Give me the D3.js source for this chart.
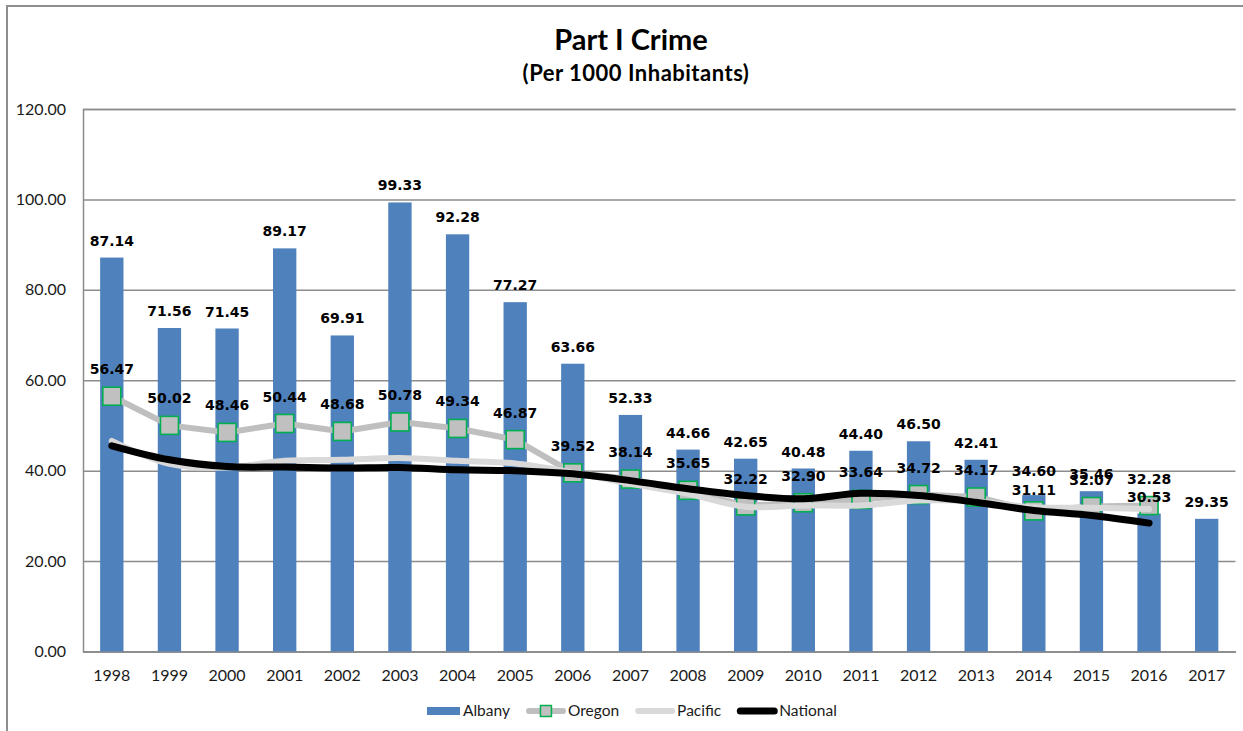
<!DOCTYPE html>
<html>
<head>
<meta charset="utf-8">
<script src="https://cdn.jsdelivr.net/npm/d3@7"></script>
<style>
  body { margin: 0; background: #fff; }
  svg { display: block; }
</style>
</head>
<body>
<svg id="chart" width="1243" height="731"></svg>
<script>
// ---- data (crimes per 1000 inhabitants) ----
const years = ["1998","1999","2000","2001","2002","2003","2004","2005","2006","2007",
               "2008","2009","2010","2011","2012","2013","2014","2015","2016","2017"];
const albany = [87.14, 71.56, 71.45, 89.17, 69.91, 99.33, 92.28, 77.27, 63.66, 52.33,
                44.66, 42.65, 40.48, 44.40, 46.50, 42.41, 34.60, 35.46, 30.53, 29.35];
const oregon = [56.47, 50.02, 48.46, 50.44, 48.68, 50.78, 49.34, 46.87, 39.52, 38.14,
                35.65, 32.22, 32.90, 33.64, 34.72, 34.17, 31.11, 32.07, 32.28, null];
const pacific = [46.6, 41.5, 40.7, 42.2, 42.4, 42.8, 42.2, 41.6, 39.6, 37.1,
                 34.9, 32.0, 32.3, 32.3, 33.4, 33.2, 31.9, 31.8, 31.5, null];
const national = [45.5, 42.4, 40.9, 40.8, 40.6, 40.7, 40.2, 40.0, 39.3, 37.8,
                  36.0, 34.5, 33.8, 35.0, 34.5, 33.0, 31.2, 30.1, 28.4, null];
const yTicks = [0, 20, 40, 60, 80, 100, 120];
const seriesNames = ["Albany", "Oregon", "Pacific", "National"];
const titleText = "Part I Crime";
const subtitleText = "(Per 1000 Inhabitants)";

// ---- layout & style ----
const W = 1243, H = 731;
const plot = { left: 83, right: 1235.5, top: 109, bottom: 651.5 };
const colors = { albany: "#4F81BD", oregon: "#BFBFBF", oregonEdge: "#00B050",
                 pacific: "#D9D9D9", national: "#000000", grid: "#8C8C8C", text: "#1a1a1a" };
const uiFont = "Lato, 'Open Sans', sans-serif";
const labelFont = "'DejaVu Sans', Verdana, sans-serif";

const svg = d3.select("#chart");

// outer chart frame
svg.append("rect")
  .attr("x", 7).attr("y", 6).attr("width", W + 20).attr("height", H + 20)
  .attr("fill", "#fff").attr("stroke", "#8E8E8E").attr("stroke-width", 2);

// title
svg.append("text").attr("x", 631).attr("y", 50)
  .attr("text-anchor", "middle").attr("font-family", uiFont).attr("font-weight", 700)
  .attr("font-size", 29).attr("fill", "#000").text(titleText);
svg.append("text").attr("x", 636).attr("y", 81)
  .attr("text-anchor", "middle").attr("font-family", uiFont).attr("font-weight", 700)
  .attr("font-size", 22).attr("letter-spacing", 0.5).attr("fill", "#000").text(subtitleText);

// scales
const x = d3.scaleBand().domain(years).range([plot.left, plot.right]).padding(0);
const y = d3.scaleLinear().domain([0, 120]).range([plot.bottom, plot.top]);
const cx = d => x(d) + x.bandwidth() / 2;
const barW = x.bandwidth() * 0.405;

// y axis with gridlines
const yAxis = svg.append("g")
  .attr("transform", `translate(${plot.left},0)`)
  .call(d3.axisLeft(y).tickValues(yTicks).tickFormat(d3.format(".2f"))
        .tickSize(-(plot.right - plot.left)).tickPadding(17));
yAxis.select(".domain").attr("stroke", colors.grid).attr("stroke-width", 1.5);
yAxis.selectAll(".tick line").attr("stroke", colors.grid).attr("stroke-width", 1.5);
yAxis.selectAll(".tick text").attr("font-family", uiFont).attr("font-size", 16)
  .attr("fill", colors.text);

// x axis
const xAxis = svg.append("g")
  .attr("transform", `translate(0,${plot.bottom})`)
  .call(d3.axisBottom(x).tickSize(0).tickPadding(18));
xAxis.select(".domain").attr("stroke", colors.grid).attr("stroke-width", 1.5);
xAxis.selectAll(".tick text").attr("font-family", uiFont).attr("font-size", 16)
  .attr("fill", colors.text);

// Albany bars
svg.append("g").selectAll("rect")
  .data(years.map((yr, i) => ({ yr, v: albany[i] })))
  .join("rect")
  .attr("x", d => cx(d.yr) - barW / 2)
  .attr("y", d => y(d.v))
  .attr("width", barW)
  .attr("height", d => y(0) - y(d.v))
  .attr("fill", colors.albany);

const pts = arr => years.map((yr, i) => ({ yr, v: arr[i] })).filter(d => d.v != null);

// Oregon: straight segments with square markers
svg.append("path")
  .datum(pts(oregon))
  .attr("fill", "none").attr("stroke", colors.oregon).attr("stroke-width", 6)
  .attr("stroke-linejoin", "round").attr("stroke-linecap", "round")
  .attr("d", d3.line().x(d => cx(d.yr)).y(d => y(d.v)));
const mk = 18;
svg.append("g").selectAll("rect")
  .data(pts(oregon))
  .join("rect")
  .attr("x", d => cx(d.yr) - mk / 2).attr("y", d => y(d.v) - mk / 2)
  .attr("width", mk).attr("height", mk)
  .attr("fill", "#C0C0C0").attr("stroke", colors.oregonEdge).attr("stroke-width", 1.6);

// Pacific & National: smoothed lines
const smooth = d3.line().x(d => cx(d.yr)).y(d => y(d.v)).curve(d3.curveCatmullRom.alpha(0.5));
svg.append("path").datum(pts(pacific))
  .attr("fill", "none").attr("stroke", colors.pacific).attr("stroke-width", 6)
  .attr("stroke-linecap", "round").attr("d", smooth);
svg.append("path").datum(pts(national))
  .attr("fill", "none").attr("stroke", colors.national).attr("stroke-width", 7)
  .attr("stroke-linecap", "round").attr("d", smooth);

// data labels
const fmt = d3.format(".2f");
const labels = svg.append("g")
  .attr("font-family", labelFont).attr("font-weight", 700).attr("font-size", 14)
  .attr("fill", "#000").attr("text-anchor", "middle");
labels.selectAll("text.albany")
  .data(pts(albany)).join("text").attr("class", "albany")
  .attr("x", d => cx(d.yr))
  .attr("y", d => y(d.v) - (d.yr === "2014" ? 24 : 17))
  .attr("dy", "0.36em")
  .text(d => fmt(d.v));
labels.selectAll("text.oregon")
  .data(pts(oregon)).join("text").attr("class", "oregon")
  .attr("x", d => cx(d.yr))
  .attr("y", d => y(d.v) - (d.yr === "2014" ? 21 : 27))
  .attr("dy", "0.36em")
  .text(d => fmt(d.v));

// legend
const legend = svg.append("g").attr("font-family", uiFont).attr("font-size", 15.5)
  .attr("fill", colors.text);
const ly = 711;
let lx = 427;
seriesNames.forEach((name, i) => {
  const g = legend.append("g");
  let symW;
  if (i === 0) {
    symW = 33;
    g.append("rect").attr("x", lx).attr("y", ly - 4).attr("width", symW).attr("height", 8)
      .attr("fill", colors.albany);
  } else {
    symW = 38;
    const stroke = i === 1 ? colors.oregon : i === 2 ? colors.pacific : colors.national;
    g.append("line").attr("x1", lx + 2).attr("x2", lx + symW - 2).attr("y1", ly).attr("y2", ly)
      .attr("stroke", stroke).attr("stroke-width", i === 3 ? 7 : 6).attr("stroke-linecap", "round");
    if (i === 1) {
      g.append("rect").attr("x", lx + symW / 2 - 5.5).attr("y", ly - 5.5)
        .attr("width", 11).attr("height", 11)
        .attr("fill", "#C0C0C0").attr("stroke", colors.oregonEdge).attr("stroke-width", 1.5);
    }
  }
  const t = g.append("text").attr("x", lx + symW + 3).attr("y", ly).attr("dy", "0.35em").text(name);
  lx += symW + 3 + t.node().getComputedTextLength() + 17;
});
</script>
</body>
</html>
